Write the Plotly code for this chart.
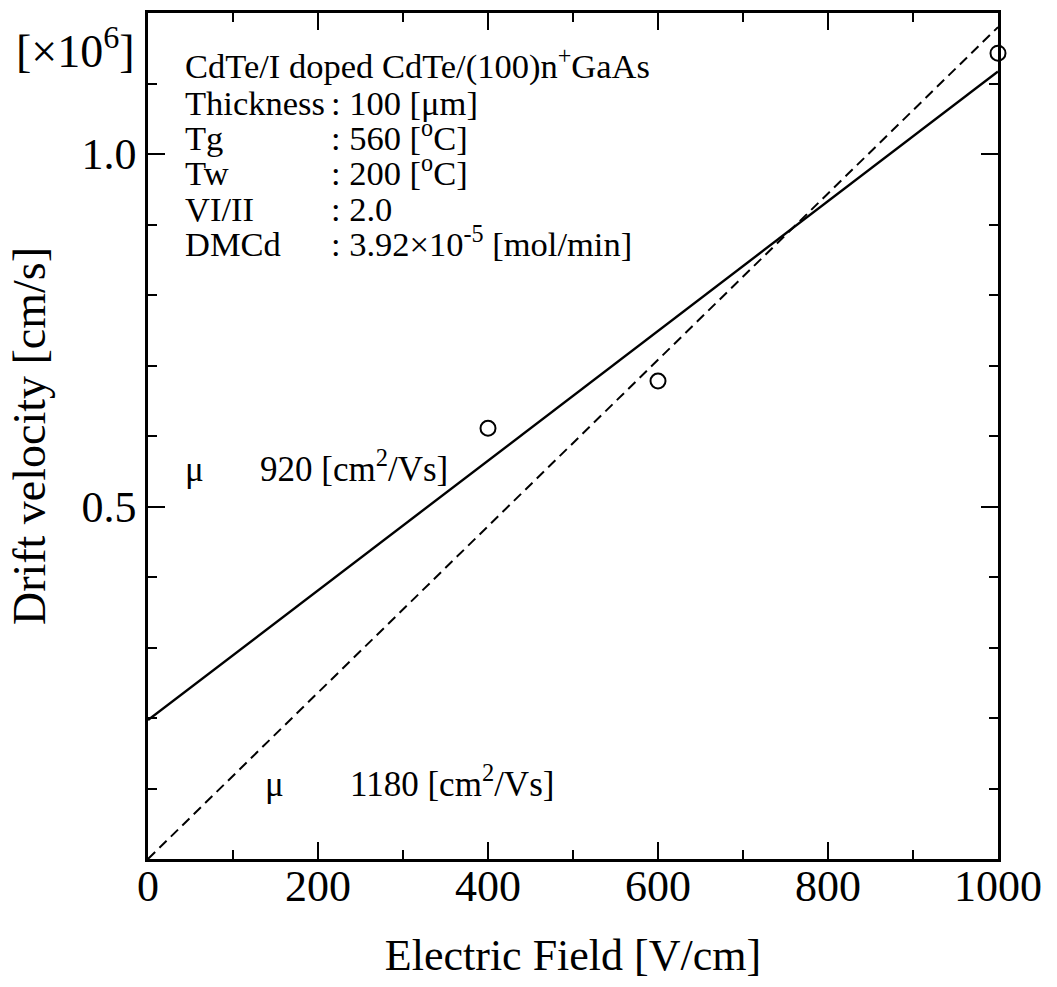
import plotly.graph_objects as go

# ---- data (values in units of 10^6 cm/s) ----
field = [400, 600, 1000]
velocity = [0.611, 0.678, 1.143]

fit1_x = [0, 1000]          # mu ~ 920 cm2/Vs fit (solid)
fit1_y = [0.197, 1.117]
fit2_x = [0, 1000]          # mu ~ 1180 cm2/Vs fit (dashed)
fit2_y = [0.0, 1.18]

x_tickvals = [0, 200, 400, 600, 800, 1000]
x_ticktext = ["0", "200", "400", "600", "800", "1000"]
y_tickvals = [0.5, 1.0]
y_ticktext = ["0.5", "1.0"]

header = "CdTe/I doped CdTe/(100)n<sup>+</sup>GaAs"
info_labels = ["Thickness", "Tg", "Tw", "VI/II", "DMCd"]
info_values = [": 100 [μm]", ": 560 [<sup>o</sup>C]", ": 200 [<sup>o</sup>C]",
               ": 2.0", ": 3.92×10<sup>-5</sup> [mol/min]"]
mu_values = ["920 [cm<sup>2</sup>/Vs]", "1180 [cm<sup>2</sup>/Vs]"]

# ---- layout geometry (pixels) ----
W, H = 1057, 987
L, R, T, B = 148, 998, 10, 859
FONT = "Liberation Serif, Times New Roman, serif"


def px(xp):
    return (xp - L) / (R - L)


def py(yp):
    return (B - yp) / (B - T)


fig = go.Figure()
fig.add_trace(go.Scatter(x=fit1_x, y=fit1_y, mode="lines",
                         line=dict(color="black", width=2.4), showlegend=False))
fig.add_trace(go.Scatter(x=fit2_x, y=fit2_y, mode="lines",
                         line=dict(color="black", width=2, dash="10px,6px"), showlegend=False))
fig.add_trace(go.Scatter(x=field, y=velocity, mode="markers", cliponaxis=False,
                         marker=dict(symbol="circle-open", size=15, color="black",
                                     line=dict(width=2, color="black")),
                         showlegend=False))

TB = 34.5  # text block font size
annotations = []
annotations.append(dict(x=px(14), y=py(45), xref="paper", yref="paper",
                        text="[×10<sup>6</sup>]", showarrow=False, xanchor="left",
                        yanchor="middle", font=dict(family=FONT, size=46, color="black")))


def row_anno(xp, center_y, text, size):
    # bottom anchoring keeps baselines aligned regardless of superscripts
    return dict(x=px(xp), y=py(center_y + 0.55 * size), xref="paper", yref="paper",
                text=text, showarrow=False, xanchor="left", yanchor="bottom",
                font=dict(family=FONT, size=size, color="black"))


annotations.append(row_anno(183, 66.5, header, TB))
for i, (lab, val) in enumerate(zip(info_labels, info_values)):
    yy = 102 + 35.5 * i
    annotations.append(row_anno(183, yy, lab, TB))
    annotations.append(row_anno(329, yy, val, TB))

mu_pos = [(183, 258, 470), (263, 348, 787)]
for (mx, vx, yy), val in zip(mu_pos, mu_values):
    annotations.append(row_anno(mx, yy, "μ", 35))
    annotations.append(row_anno(vx, yy, val, 35))

axis_common = dict(showline=True, linecolor="black", linewidth=2.5, mirror="ticks",
                   ticks="inside", ticklen=17, tickwidth=2, tickcolor="black",
                   showgrid=False, zeroline=False,
                   tickfont=dict(family=FONT, size=44, color="black"))

fig.update_layout(
    width=W, height=H,
    margin=dict(l=L, r=W - R, t=T, b=H - B, pad=0),
    paper_bgcolor="white", plot_bgcolor="white",
    annotations=annotations,
    xaxis=dict(range=[0, 1000], tickvals=x_tickvals, ticktext=x_ticktext,
               ticklabelstandoff=-14,
               minor=dict(dtick=100, tick0=0, ticklen=9, tickwidth=2, tickcolor="black",
                          ticks="inside"),
               title=dict(text="Electric Field [V/cm]", standoff=30,
                          font=dict(family=FONT, size=44, color="black")),
               **axis_common),
    yaxis=dict(range=[0, 1.2], tickvals=y_tickvals, ticktext=y_ticktext,
               minor=dict(dtick=0.1, tick0=0, ticklen=9, tickwidth=2, tickcolor="black",
                          ticks="inside"),
               title=dict(text="Drift velocity [cm/s]", standoff=22,
                          font=dict(family=FONT, size=46, color="black")),
               **axis_common),
)

fig.write_html("out.html")
